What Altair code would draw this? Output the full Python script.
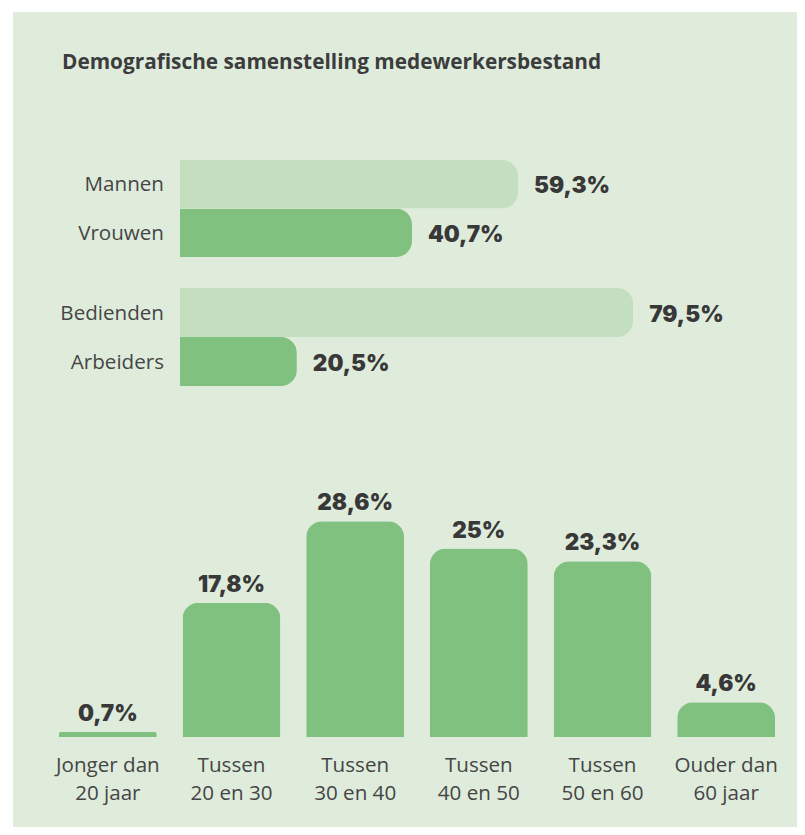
import altair as alt
import pandas as pd

# ---------------- data ----------------
title_text = "Demografische samenstelling medewerkersbestand"

gender_cats = ["Mannen", "Vrouwen"]
gender_vals = [59.3, 40.7]

job_cats = ["Bedienden", "Arbeiders"]
job_vals = [79.5, 20.5]

age_cats = ["Jonger dan 20 jaar", "Tussen 20 en 30", "Tussen 30 en 40",
            "Tussen 40 en 50", "Tussen 50 en 60", "Ouder dan 60 jaar"]
age_line1 = ["Jonger dan", "Tussen", "Tussen", "Tussen", "Tussen", "Ouder dan"]
age_line2 = ["20 jaar", "20 en 30", "30 en 40", "40 en 50", "50 en 60", "60 jaar"]
age_vals = [0.7, 17.8, 28.6, 25, 23.3, 4.6]

# ---------------- style ----------------
BG = "#dfecdc"
LIGHT = "#c3dfc0"
DARK = "#80c180"
VAL_COLOR = "#383838"
LAB_COLOR = "#454545"
LAB_FONT = "Open Sans"
VAL_FONT = "Inter"


def fmt(v):
    return ("%g" % v).replace(".", ",") + "%"


gender_df = pd.DataFrame({"cat": gender_cats, "val": gender_vals,
                          "lab": [fmt(v) for v in gender_vals]})
job_df = pd.DataFrame({"cat": job_cats, "val": job_vals,
                       "lab": [fmt(v) for v in job_vals]})
age_df = pd.DataFrame({"cat": age_cats, "l1": age_line1, "l2": age_line2,
                       "val": age_vals, "lab": [fmt(v) for v in age_vals]})
title_df = pd.DataFrame({"t": [title_text]})

top_x = alt.Scale(domain=[0, 100], range=[167, 737])


def hbar_group(df, cats, yrange):
    ysc = alt.Scale(domain=cats, range=yrange, paddingInner=0, paddingOuter=0)
    base = alt.Chart(df)
    bars = base.mark_bar(cornerRadiusTopRight=16, cornerRadiusBottomRight=16).encode(
        x=alt.X("val:Q", scale=top_x, axis=None),
        y=alt.Y("cat:N", scale=ysc, axis=None, sort=cats),
        color=alt.Color("cat:N", scale=alt.Scale(domain=cats, range=[LIGHT, DARK]), legend=None),
    )
    vals = base.mark_text(align="left", baseline="middle", dx=16, dy=2,
                          font=VAL_FONT, fontWeight=900, fontSize=22.5,
                          color=VAL_COLOR).encode(
        x=alt.X("val:Q", scale=top_x, axis=None),
        y=alt.Y("cat:N", scale=ysc, axis=None, sort=cats),
        text="lab:N",
    )
    labs = base.mark_text(align="right", baseline="middle", dy=1,
                          font=LAB_FONT, fontSize=20.6, color=LAB_COLOR).encode(
        x=alt.value(151),
        y=alt.Y("cat:N", scale=ysc, axis=None, sort=cats),
        text="cat:N",
    )
    return alt.layer(bars, vals, labs)


gender_layer = hbar_group(gender_df, gender_cats, [148, 245])
job_layer = hbar_group(job_df, job_cats, [276, 374])

age_x = alt.Scale(domain=age_cats, range=[33, 775], paddingInner=0.208, paddingOuter=0.104)
age_y = alt.Scale(domain=[0, 30], range=[725, 498.8])
age_base = alt.Chart(age_df)
age_bars = age_base.mark_bar(cornerRadiusTopLeft=16, cornerRadiusTopRight=16, color=DARK).encode(
    x=alt.X("cat:N", scale=age_x, axis=None, sort=age_cats),
    y=alt.Y("val:Q", scale=age_y, axis=None),
)
age_vals_t = age_base.mark_text(align="center", baseline="alphabetic", dy=-11,
                                font=VAL_FONT, fontWeight=900, fontSize=22.5,
                                color=VAL_COLOR).encode(
    x=alt.X("cat:N", scale=age_x, axis=None, sort=age_cats),
    y=alt.Y("val:Q", scale=age_y, axis=None),
    text="lab:N",
)
age_l1 = age_base.mark_text(align="center", baseline="alphabetic",
                            font=LAB_FONT, fontSize=20.6, color=LAB_COLOR).encode(
    x=alt.X("cat:N", scale=age_x, axis=None, sort=age_cats),
    y=alt.value(760),
    text="l1:N",
)
age_l2 = age_base.mark_text(align="center", baseline="alphabetic",
                            font=LAB_FONT, fontSize=20.6, color=LAB_COLOR).encode(
    x=alt.X("cat:N", scale=age_x, axis=None, sort=age_cats),
    y=alt.value(788),
    text="l2:N",
)
age_layer = alt.layer(age_bars, age_vals_t, age_l1, age_l2)

title_layer = alt.Chart(title_df).mark_text(
    align="left", baseline="alphabetic", font=LAB_FONT, fontWeight="bold",
    fontSize=20.8, color="#3c3c3c").encode(
    x=alt.value(49), y=alt.value(57), text="t:N")

chart = alt.layer(title_layer, gender_layer, job_layer, age_layer).resolve_scale(
    x="independent", y="independent", color="independent"
).properties(
    width=784, height=815,
    padding={"left": 5, "top": 4, "right": 0, "bottom": 0},
    autosize=alt.AutoSizeParams(type="none"),
    background="white",
).configure_view(stroke=None, fill=BG)

chart.save("out.html", embed_options={"renderer": "svg", "actions": False})
